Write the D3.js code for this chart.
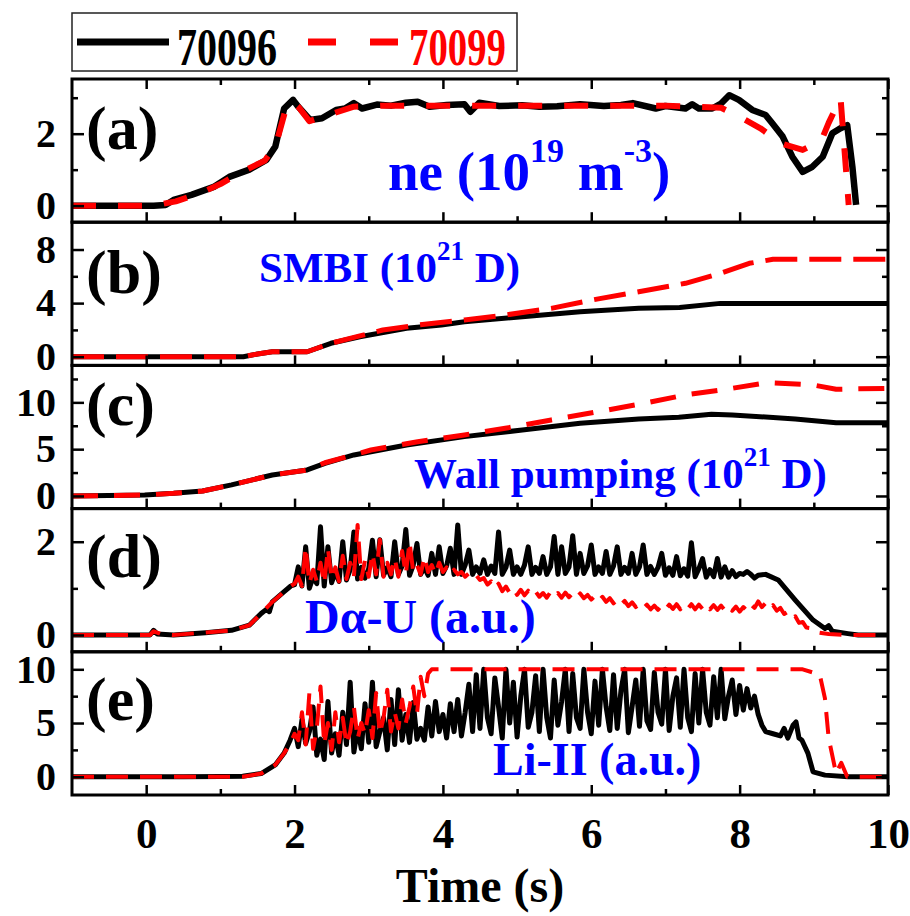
<!DOCTYPE html>
<html><head><meta charset="utf-8">
<script src="https://cdn.jsdelivr.net/npm/d3@7"></script>
<style>body{margin:0;background:#fff}</style>
</head><body><svg id="c" width="910" height="916"></svg>
<script>
// ---------------- DATA ----------------
const shots = ["70096", "70099"];
const panelLetters = ["(a)", "(b)", "(c)", "(d)", "(e)"];
const xMajorTicks = [0, 2, 4, 6, 8, 10];
const xMinorTicks = [1, 3, 5, 7, 9];
const xTitle = "Time (s)";

// (a) ne (1e19 m^-3)
const neBlack = [[-1,0],[0.1,0],[0.26,0.02],[0.37,0.16],[0.61,0.3],[0.92,0.53],[1.12,0.8],[1.39,1.0],[1.62,1.27],[1.74,1.64],[1.86,2.7],[1.98,2.94],[2.05,2.75],[2.21,2.38],[2.37,2.43],[2.56,2.66],[2.68,2.7],[2.8,2.85],[2.91,2.7],[3.11,2.81],[3.3,2.78],[3.5,2.86],[3.66,2.89],[3.82,2.75],[4.05,2.8],[4.29,2.82],[4.37,2.61],[4.49,2.86],[4.76,2.77],[5.07,2.79],[5.3,2.75],[5.54,2.76],[5.85,2.82],[6.17,2.77],[6.4,2.8],[6.56,2.85],[6.87,2.7],[7.0,2.77],[7.27,2.7],[7.36,2.82],[7.45,2.7],[7.63,2.7],[7.75,2.84],[7.86,3.07],[7.99,2.94],[8.17,2.66],[8.35,2.52],[8.44,2.29],[8.58,1.92],[8.71,1.36],[8.85,0.94],[8.98,1.08],[9.12,1.36],[9.25,2.01],[9.36,2.15],[9.45,2.24],[9.52,1.08],[9.57,0.02]];
const neRed = [[-1,0],[0.1,0],[0.4,0.12],[0.7,0.32],[1.0,0.6],[1.3,0.95],[1.6,1.25],[1.75,1.7],[1.87,2.6],[1.97,2.9],[2.05,2.75],[2.2,2.35],[2.5,2.55],[2.8,2.75],[3.2,2.78],[4.0,2.78],[5.0,2.78],[6.0,2.78],[7.0,2.78],[7.75,2.72],[8.0,2.47],[8.28,2.15],[8.56,1.73],[8.85,1.55],[9.1,1.8],[9.2,2.3],[9.36,3.0],[9.47,0.02]];

// (b) SMBI (1e21 D)
const smbiBlack = [[-1,0],[1.31,0],[1.5,0.2],[1.7,0.37],[2.17,0.37],[2.49,1.0],[2.88,1.49],[3.51,2.12],[3.98,2.37],[4.29,2.61],[5.07,2.99],[5.85,3.36],[6.64,3.61],[7.19,3.68],[7.74,3.98],[10,3.98]];
const smbiRed = [[-1,0],[1.31,0],[1.5,0.2],[1.7,0.37],[2.17,0.37],[2.49,1.0],[2.88,1.55],[3.19,1.99],[3.67,2.37],[4.29,2.74],[4.84,3.11],[5.46,3.61],[6.01,4.23],[6.64,4.85],[7.27,5.48],[7.74,6.22],[8.13,6.97],[8.45,7.27],[10,7.27]];

// (c) Wall pumping (1e21 D)
const wallBlack = [[-1,0],[-0.02,0.1],[0.37,0.28],[0.76,0.53],[1.15,1.18],[1.7,2.24],[2.17,2.78],[2.41,3.49],[2.8,4.38],[3.51,5.45],[4.29,6.34],[5.07,7.05],[5.85,7.77],[6.64,8.23],[7.18,8.41],[7.62,8.72],[7.9,8.65],[8.75,8.23],[9.3,7.83],[10,7.83]];
const wallRed = [[-1,0],[-0.02,0.1],[0.37,0.28],[0.76,0.53],[1.15,1.18],[1.7,2.24],[2.17,2.78],[2.41,3.55],[3.03,4.91],[3.66,5.8],[4.29,6.52],[4.84,7.23],[5.46,8.12],[6.09,9.0],[6.71,9.9],[7.27,10.8],[7.82,11.4],[8.36,12.1],[8.99,11.86],[9.3,11.4],[10,11.5]];

// sampled (noisy) parts: sample start time and spacing
const noisyT0 = 2.0, noisyStep = 0.05;

// (d) D-alpha U (a.u.)
const daBlackHead = [[-1,0],[0.05,0],[0.1,0.1],[0.15,0.02],[0.37,0],[0.8,0.05],[1.15,0.1],[1.39,0.21],[1.55,0.46],[1.62,0.55],[1.66,0.5],[1.7,0.71],[1.86,0.93],[1.95,1.05]];
const daBlackNoisy = [
 1.08,1.46,1.05,1.89,1.00,1.25,1.10,2.32,1.05,1.89,
 1.12,1.35,1.15,2.00,1.18,1.40,2.21,1.20,1.45,1.22,
 1.42,2.03,1.25,2.04,1.28,1.45,1.25,2.00,1.30,1.48,
 2.26,1.28,1.50,1.96,1.30,1.45,1.28,1.75,1.30,1.89,
 1.32,1.48,1.86,1.30,2.36,1.30,1.50,1.82,1.30,1.46,
 1.32,1.61,1.30,1.48,1.32,2.21,1.30,1.45,1.82,1.30,
 1.46,1.30,1.50,1.89,1.30,1.45,1.32,1.68,1.30,1.46,
 2.11,1.30,1.89,1.32,1.46,2.13,1.30,1.75,1.32,1.48,
 1.93,1.30,1.46,1.32,1.79,1.30,1.48,1.89,1.30,1.45,
 1.32,1.75,1.30,1.46,1.93,1.30,1.47,1.30,1.45,1.75,
 1.28,1.44,1.28,1.68,1.27,1.42,1.26,1.98,1.25,1.42,
 1.64,1.24,1.40,1.25,1.64,1.24,1.46,1.24,1.38,1.25,
 1.32,1.30,1.36,1.30,1.22];
const daBlackTail = [[8.25,1.28],[8.35,1.3],[8.52,1.18],[8.75,0.75],[8.99,0.32],[9.15,0.14],[9.2,0.2],[9.25,0.08],[9.46,0.03],[9.6,0],[10,0]];

const daRedHead = [[-1,0],[0.05,0],[0.1,0.08],[0.2,0.02],[0.37,0],[1.15,0.1],[1.39,0.21],[1.55,0.46],[1.7,0.71],[1.86,0.93],[1.95,1.05]];
const daRedNoisy = [
 1.10,1.25,1.05,1.89,1.10,1.40,1.15,1.55,1.10,1.86,
 1.20,1.45,1.15,1.70,1.20,1.55,1.25,2.36,1.20,1.60,
 1.25,1.75,1.30,2.04,1.25,1.55,1.30,1.65,1.25,1.80,
 1.30,2.00,1.35,1.50,1.30,1.68,1.35,1.50,1.30,1.55,
 1.35,1.45,1.30,1.40,1.30,1.35,1.25,1.32,1.22,1.28,
 1.18,1.22,1.08,1.15,1.00,1.10,0.94,1.04,0.90,0.99,
 0.86,0.97,0.85,0.95,0.84,0.93,0.82,0.90,0.80,0.92,
 0.82,0.90,0.80,0.91,0.81,0.90,0.80,0.89,0.79,0.86,
 0.76,0.84,0.73,0.82,0.71,0.79,0.68,0.76,0.65,0.73,
 0.62,0.70,0.60,0.67,0.57,0.65,0.55,0.63,0.54,0.64,
 0.55,0.65,0.56,0.66,0.55,0.65,0.56,0.66,0.55,0.65,
 0.56,0.66,0.55,0.64,0.54,0.63,0.53,0.62,0.52,0.61,
 0.50,0.60,0.52,0.66,0.58,0.72,0.60,0.68,0.56,0.64,
 0.52,0.58,0.45,0.50,0.36,0.40,0.26,0.28,0.16,0.15,
 0.07];
const daRedTail = [[9.2,0.02],[9.42,0],[10,0]];

// (e) Li-II (a.u.)
const liBlackHead = [[-1,0],[0.5,0],[1.0,0.02],[1.3,0.05],[1.55,0.3],[1.74,1.1],[1.86,2.2],[1.94,3.4]];
const liBlackNoisy = [
 4.5,2.8,5.3,3.1,4.2,6.5,2.0,3.5,1.6,7.0,
 2.2,4.0,2.0,6.0,3.0,8.8,2.3,4.5,2.6,6.8,
 3.2,8.8,2.8,4.2,5.5,2.5,7.2,3.0,8.1,3.4,
 5.8,3.2,6.9,3.5,4.5,3.4,6.5,3.8,7.0,4.2,
 5.8,3.6,6.8,4.2,7.2,3.8,6.0,8.6,4.2,9.5,
 4.5,10.0,5.5,4.0,9.2,6.5,3.6,10.0,5.0,8.8,
 3.7,7.5,10.0,4.6,6.0,9.4,4.2,10.0,5.5,3.6,
 9.0,4.8,7.0,10.0,4.2,9.6,5.5,4.5,10.0,6.0,
 4.0,8.9,4.8,10.0,6.5,4.3,9.5,4.5,8.0,10.0,
 4.1,6.5,9.0,4.7,10.0,5.2,4.4,9.7,6.0,4.9,
 10.0,4.3,7.5,9.2,4.6,10.0,5.5,4.2,9.6,5.0,
 10.0,6.0,4.8,9.3,5.5,10.0,5.4,7.5,9.0,5.8,
 8.5,6.2,8.2,6.4,7.5,5.8,4.8];
const liBlackTail = [[8.35,4.2],[8.45,4.0],[8.55,3.8],[8.6,4.5],[8.65,3.6],[8.72,4.8],[8.76,5.1],[8.8,3.6],[8.84,3.4],[8.92,2.2],[8.99,0.45],[9.15,0.15],[9.46,0],[10,0]];

const liRedHead = [[-1,0],[1.3,0],[1.55,0.3],[1.74,1.1],[1.86,2.2],[1.95,3.2]];
const liRedNoisy = [
 4.0,3.4,6.0,3.0,7.8,2.6,4.5,8.4,3.0,5.0,
 2.5,6.0,3.2,5.5,3.0,4.2,6.5,3.5,5.0,4.0,
 6.2,3.6,7.8,4.0,5.5,8.1,4.2,6.0,4.5,7.2,
 5.0,6.5,8.4,5.8,9.3,7.5,9.6,10.0];
const liRedTail = [[3.9,10],[8.85,10],[9.08,9.5],[9.15,7.3],[9.2,3.6],[9.3,0.3],[9.37,1.3],[9.45,0],[10,0]];

// ---------------- BUILD ----------------
function sampled(vals) { return vals.map((v, i) => [noisyT0 + i * noisyStep, v]); }
const daBlack = daBlackHead.concat(sampled(daBlackNoisy), daBlackTail);
const daRed = daRedHead.concat(sampled(daRedNoisy), daRedTail);
const liBlack = liBlackHead.concat(sampled(liBlackNoisy), liBlackTail);
const liRed = liRedHead.concat(sampled(liRedNoisy), liRedTail);

const FONT = "'Liberation Serif','Times New Roman',serif";
const svg = d3.select("#c");
const L = 72, R = 888, TOP = 79, BOT = 795;
const ph = (BOT - TOP) / 5;
const x = d3.scaleLinear().domain([-1, 10]).range([L, R]);

const panels = [
  {dom:[-0.46,3.52], major:[0,2], minor:[1,3], black:neBlack, red:neRed, lw:6.5, rw:6, dash:"24,22", labY:70},
  {dom:[-0.65,10.04], major:[0,4,8], minor:[2,6], black:smbiBlack, red:smbiRed, lw:5, rw:5, dash:"32,12", labY:71},
  {dom:[-1.35,13.95], major:[0,5,10], minor:[2.5,7.5,12.5], black:wallBlack, red:wallRed, lw:5, rw:5, dash:"26,16", labY:60},
  {dom:[-0.36,2.71], major:[0,2], minor:[1], black:daBlack, red:daRed, lw:5, rw:4, dash:"22,12", labY:68},
  {dom:[-1.70,11.63], major:[0,5,10], minor:[2.5,7.5], black:liBlack, red:liRed, lw:5, rw:4, dash:"22,12", labY:68}
];

const defs = svg.append("defs");
panels.forEach((p, i) => {
  const top = TOP + i * ph, bot = top + ph;
  const y = d3.scaleLinear().domain(p.dom).range([bot, top]);
  const g = svg.append("g");
  const cid = "clip" + i;
  defs.append("clipPath").attr("id", cid).append("rect")
    .attr("x", L).attr("y", top).attr("width", R - L).attr("height", ph);

  const line = d3.line().x(d => x(d[0])).y(d => y(d[1]));
  const lg = g.append("g").attr("clip-path", `url(#${cid})`);
  lg.append("path").datum(p.black).attr("d", line).attr("fill", "none")
    .attr("stroke", "#000").attr("stroke-width", p.lw).attr("stroke-linejoin", "round");
  lg.append("path").datum(p.red).attr("d", line).attr("fill", "none")
    .attr("stroke", "#ff0000").attr("stroke-width", p.rw).attr("stroke-dasharray", p.dash)
    .attr("stroke-linejoin", "round");

  // y axes (ticks inward on both sides)
  const yl = g.append("g").attr("transform", `translate(${L},0)`)
    .call(d3.axisLeft(y).tickValues(p.major).tickSize(-12).tickPadding(16).tickFormat(d3.format("d")));
  const ylm = g.append("g").attr("transform", `translate(${L},0)`)
    .call(d3.axisLeft(y).tickValues(p.minor).tickSize(-6).tickFormat(""));
  const yr = g.append("g").attr("transform", `translate(${R},0)`)
    .call(d3.axisRight(y).tickValues(p.major).tickSize(-12).tickFormat(""));
  const yrm = g.append("g").attr("transform", `translate(${R},0)`)
    .call(d3.axisRight(y).tickValues(p.minor).tickSize(-6).tickFormat(""));
  [yl, ylm, yr, yrm].forEach(a => {
    a.select(".domain").remove();
    a.selectAll("line").attr("stroke", "#000").attr("stroke-width", 2.5);
  });
  yl.selectAll("text").attr("font-family", FONT).attr("font-weight", "bold")
    .attr("font-size", 40).attr("fill", "#000");

  // x ticks at bottom (inward)
  const xb = g.append("g").attr("transform", `translate(0,${bot})`)
    .call(d3.axisBottom(x).tickValues(xMajorTicks).tickSize(-10).tickPadding(22)
      .tickFormat(i === 4 ? d3.format("d") : ""));
  const xbm = g.append("g").attr("transform", `translate(0,${bot})`)
    .call(d3.axisBottom(x).tickValues(xMinorTicks).tickSize(-6).tickFormat(""));
  const extra = [xb, xbm];
  if (i === 0) {
    extra.push(g.append("g").attr("transform", `translate(0,${top})`)
      .call(d3.axisTop(x).tickValues(xMajorTicks).tickSize(-10).tickFormat("")));
    extra.push(g.append("g").attr("transform", `translate(0,${top})`)
      .call(d3.axisTop(x).tickValues(xMinorTicks).tickSize(-6).tickFormat("")));
  }
  extra.forEach(a => {
    a.select(".domain").remove();
    a.selectAll("line").attr("stroke", "#000").attr("stroke-width", 2.5);
  });
  xb.selectAll("text").attr("font-family", FONT).attr("font-weight", "bold")
    .attr("font-size", 43).attr("fill", "#000");

  // frame
  g.append("rect").attr("x", L).attr("y", top).attr("width", R - L).attr("height", ph)
    .attr("fill", "none").attr("stroke", "#000").attr("stroke-width", 3);

  // panel letter
  g.append("text").attr("x", 86).attr("y", top + p.labY).text(panelLetters[i])
    .attr("font-family", FONT).attr("font-weight", "bold").attr("font-size", 62).attr("fill", "#000");
});

// annotations
function annot(xp, yp, size, parts) {
  const t = svg.append("text").attr("x", xp).attr("y", yp)
    .attr("font-family", FONT).attr("font-weight", "bold").attr("font-size", size).attr("fill", "#0000ff");
  let raised = 0;
  parts.forEach(([s, sup]) => {
    const ts = t.append("tspan").text(s);
    if (sup) {
      const r = Math.round(size * 0.5);
      ts.attr("font-size", Math.round(size * 0.62)).attr("dy", -r + raised);
      raised = r;
    } else if (raised) {
      ts.attr("dy", raised);
      raised = 0;
    }
  });
}
annot(388, 190, 55, [["ne (10", false], ["19", true], [" m", false], ["-3", true], [")", false]]);
annot(259, 282, 43, [["SMBI (10", false], ["21", true], [" D)", false]]);
annot(414, 488, 43, [["Wall pumping (10", false], ["21", true], [" D)", false]]);
annot(305, 633, 48, [["D\u03b1-U (a.u.)", false]]);
annot(493, 775, 46, [["Li-II (a.u.)", false]]);

// x title
svg.append("text").attr("x", 480).attr("y", 902).attr("text-anchor", "middle").text(xTitle)
  .attr("font-family", FONT).attr("font-weight", "bold").attr("font-size", 48).attr("fill", "#000");

// legend
const lg = svg.append("g");
lg.append("rect").attr("x", 72).attr("y", 13).attr("width", 445).attr("height", 58)
  .attr("fill", "#fff").attr("stroke", "#222").attr("stroke-width", 1.5);
lg.append("line").attr("x1", 77).attr("x2", 169).attr("y1", 42).attr("y2", 42)
  .attr("stroke", "#000").attr("stroke-width", 7);
lg.append("text").attr("x", 177).attr("y", 65).text(shots[0]).attr("textLength", 100)
  .attr("lengthAdjust", "spacingAndGlyphs")
  .attr("font-family", FONT).attr("font-weight", "bold").attr("font-size", 52).attr("fill", "#000");
lg.append("line").attr("x1", 308).attr("x2", 398).attr("y1", 42).attr("y2", 42)
  .attr("stroke", "#ff0000").attr("stroke-width", 7).attr("stroke-dasharray", "28,34");
lg.append("text").attr("x", 409).attr("y", 65).text(shots[1]).attr("textLength", 97)
  .attr("lengthAdjust", "spacingAndGlyphs")
  .attr("font-family", FONT).attr("font-weight", "bold").attr("font-size", 52).attr("fill", "#ff0000");
</script></body></html>
